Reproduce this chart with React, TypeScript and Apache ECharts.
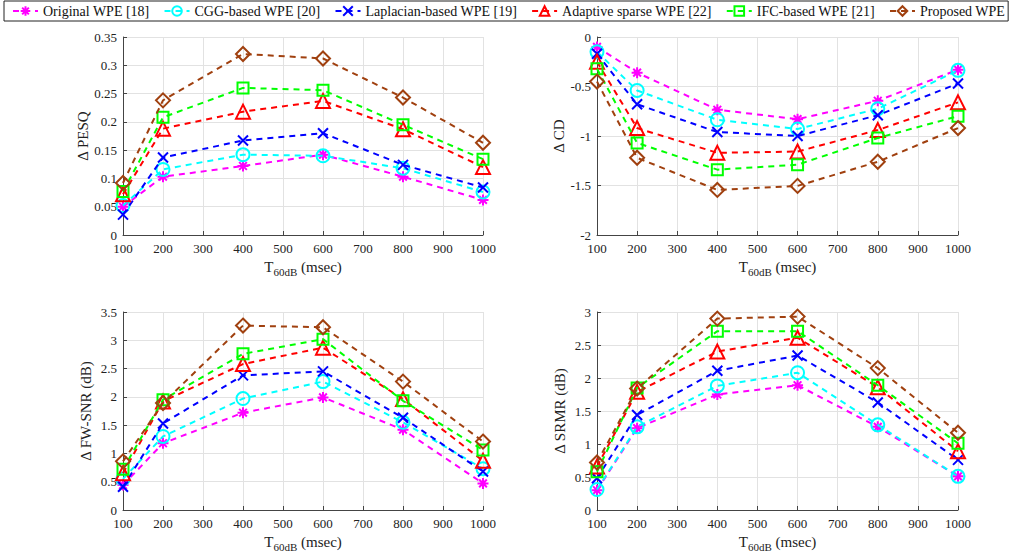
import React, { useEffect, useRef } from "react";
import * as echarts from "echarts";

const xValues = [100, 200, 400, 600, 800, 1000];
const xTicks = [100, 1000, 100]; // min, max, interval

const seriesNames = [
  "Original WPE [18]",
  "CGG-based WPE [20]",
  "Laplacian-based WPE [19]",
  "Adaptive sparse WPE [22]",
  "IFC-based WPE [21]",
  "Proposed WPE",
];

const pesqOriginal = [0.05, 0.103, 0.122, 0.142, 0.103, 0.062];
const pesqCgg = [0.052, 0.116, 0.142, 0.14, 0.118, 0.076];
const pesqLaplacian = [0.036, 0.137, 0.167, 0.18, 0.124, 0.084];
const pesqAdaptive = [0.072, 0.188, 0.218, 0.237, 0.187, 0.12];
const pesqIfc = [0.077, 0.208, 0.26, 0.256, 0.195, 0.134];
const pesqProposed = [0.092, 0.238, 0.32, 0.312, 0.243, 0.163];

const cdOriginal = [-0.1, -0.36, -0.735, -0.83, -0.644, -0.33];
const cdCgg = [-0.15, -0.54, -0.836, -0.93, -0.725, -0.337];
const cdLaplacian = [-0.17, -0.68, -0.96, -1.0, -0.79, -0.47];
const cdAdaptive = [-0.25, -0.92, -1.17, -1.157, -0.94, -0.66];
const cdIfc = [-0.32, -1.07, -1.34, -1.29, -1.02, -0.8];
const cdProposed = [-0.45, -1.22, -1.545, -1.504, -1.26, -0.92];

const fwOriginal = [0.44, 1.18, 1.72, 1.99, 1.42, 0.47];
const fwCgg = [0.55, 1.3, 1.97, 2.27, 1.55, 0.73];
const fwLaplacian = [0.41, 1.53, 2.38, 2.45, 1.63, 0.68];
const fwAdaptive = [0.65, 1.92, 2.58, 2.87, 1.96, 0.87];
const fwIfc = [0.72, 1.95, 2.76, 3.02, 1.93, 1.06];
const fwProposed = [0.86, 1.89, 3.26, 3.23, 2.27, 1.21];

const srOriginal = [0.3, 1.24, 1.75, 1.89, 1.26, 0.51];
const srCgg = [0.31, 1.26, 1.88, 2.08, 1.29, 0.51];
const srLaplacian = [0.48, 1.44, 2.11, 2.34, 1.63, 0.76];
const srAdaptive = [0.66, 1.79, 2.4, 2.61, 1.86, 0.89];
const srIfc = [0.58, 1.85, 2.71, 2.71, 1.89, 1.01];
const srProposed = [0.72, 1.84, 2.9, 2.93, 2.15, 1.17];

const yNames = ["Δ PESQ", "Δ CD", "Δ FW-SNR (dB)", "Δ SRMR (dB)"];
const yRanges = [
  [0, 0.35, 0.05],
  [-2, 0, 0.5],
  [0, 3.5, 0.5],
  [0, 3, 0.5],
];

const panelData = [
  [pesqOriginal, pesqCgg, pesqLaplacian, pesqAdaptive, pesqIfc, pesqProposed],
  [cdOriginal, cdCgg, cdLaplacian, cdAdaptive, cdIfc, cdProposed],
  [fwOriginal, fwCgg, fwLaplacian, fwAdaptive, fwIfc, fwProposed],
  [srOriginal, srCgg, srLaplacian, srAdaptive, srIfc, srProposed],
];

const colors = ["#ff00ff", "#00ffff", "#0000ff", "#ff0000", "#00ff00", "#a0400f"];
const symbols = [
  "path://M0,-10L0,10M-10,0L10,0M-7,-7L7,7M-7,7L7,-7",
  "path://M10,0A10,10 0 1,1 -10,0A10,10 0 1,1 10,0Z",
  "path://M-10,-10L10,10M-10,10L10,-10",
  "path://M0,-10L10,8L-10,8Z",
  "path://M-10,-10L10,-10L10,10L-10,10Z",
  "path://M0,-10L10,0L0,10L-10,0Z",
];
const symbolSizes = [11, 13, 10, 14, 11, 14];

const grids = [
  { left: 123, top: 37, width: 360, height: 198 },
  { left: 597, top: 37, width: 361, height: 198 },
  { left: 123, top: 312, width: 360, height: 198 },
  { left: 597, top: 312, width: 361, height: 198 },
];

const FONT = "Liberation Serif";

export default function App() {
  const ref = useRef<HTMLDivElement>(null);
  useEffect(() => {
    document.body.style.margin = "0";
    const chart = echarts.init(ref.current!, null, { renderer: "svg" });
    const xAxis = grids.map((_, i) => ({
      type: "value",
      gridIndex: i,
      min: xTicks[0],
      max: xTicks[1],
      interval: xTicks[2],
      name: "{t|T}{s|60dB}{t| (msec)}",
      nameLocation: "middle",
      nameGap: 22,
      nameTextStyle: {
        rich: {
          t: { fontFamily: FONT, fontSize: 15, color: "#222", lineHeight: 20 },
          s: { fontFamily: FONT, fontSize: 11, color: "#222", lineHeight: 20, padding: [10, 0, 0, 0] },
        },
      },
      axisLine: { show: true, onZero: false, lineStyle: { color: "#444", width: 1 } },
      axisTick: { show: true, inside: true, length: 4, lineStyle: { color: "#444" } },
      axisLabel: {
        fontFamily: FONT,
        fontSize: 13,
        color: "#222",
        margin: 7,
        formatter: (v: number) => String(v),
      },
      splitLine: { show: true, lineStyle: { color: "#e2e2e2", width: 1 } },
    }));
    const yAxis = grids.map((_, i) => ({
      type: "value",
      gridIndex: i,
      min: yRanges[i][0],
      max: yRanges[i][1],
      interval: yRanges[i][2],
      name: yNames[i],
      nameLocation: "middle",
      nameGap: 30,
      nameTextStyle: { fontFamily: FONT, fontSize: 15, color: "#222" },
      axisLine: { show: true, onZero: false, lineStyle: { color: "#444", width: 1 } },
      axisTick: { show: true, inside: true, length: 4, lineStyle: { color: "#444" } },
      axisLabel: { fontFamily: FONT, fontSize: 13, color: "#222", margin: 6 },
      splitLine: { show: true, lineStyle: { color: "#e2e2e2", width: 1 } },
    }));
    const series: any[] = [];
    panelData.forEach((panel, gi) => {
      panel.forEach((vals, si) => {
        series.push({
          type: "line",
          name: seriesNames[si],
          xAxisIndex: gi,
          yAxisIndex: gi,
          data: vals.map((v, k) => [xValues[k], v]),
          symbol: symbols[si],
          symbolSize: symbolSizes[si],
          showAllSymbol: true,
          lineStyle: { color: colors[si], width: 2, type: [6, 5] },
          itemStyle: { color: "rgba(0,0,0,0)", borderColor: colors[si], borderWidth: 2 },
          emphasis: { disabled: true },
          z: 2 + si,
        });
      });
    });
    chart.setOption({
      animation: false,
      backgroundColor: "#ffffff",
      legend: {
        data: seriesNames,
        left: 4,
        top: 1,
        width: 1020,
        padding: [3, 3, 3, 8],
        itemGap: 14,
        itemWidth: 25,
        itemHeight: 12,
        borderColor: "#222",
        borderWidth: 1,
        textStyle: { fontFamily: FONT, fontSize: 14, color: "#111" },
      },
      grid: grids,
      xAxis,
      yAxis,
      series,
    });
    return () => chart.dispose();
  }, []);
  return <div ref={ref} style={{ width: 1032, height: 558 }} />;
}
